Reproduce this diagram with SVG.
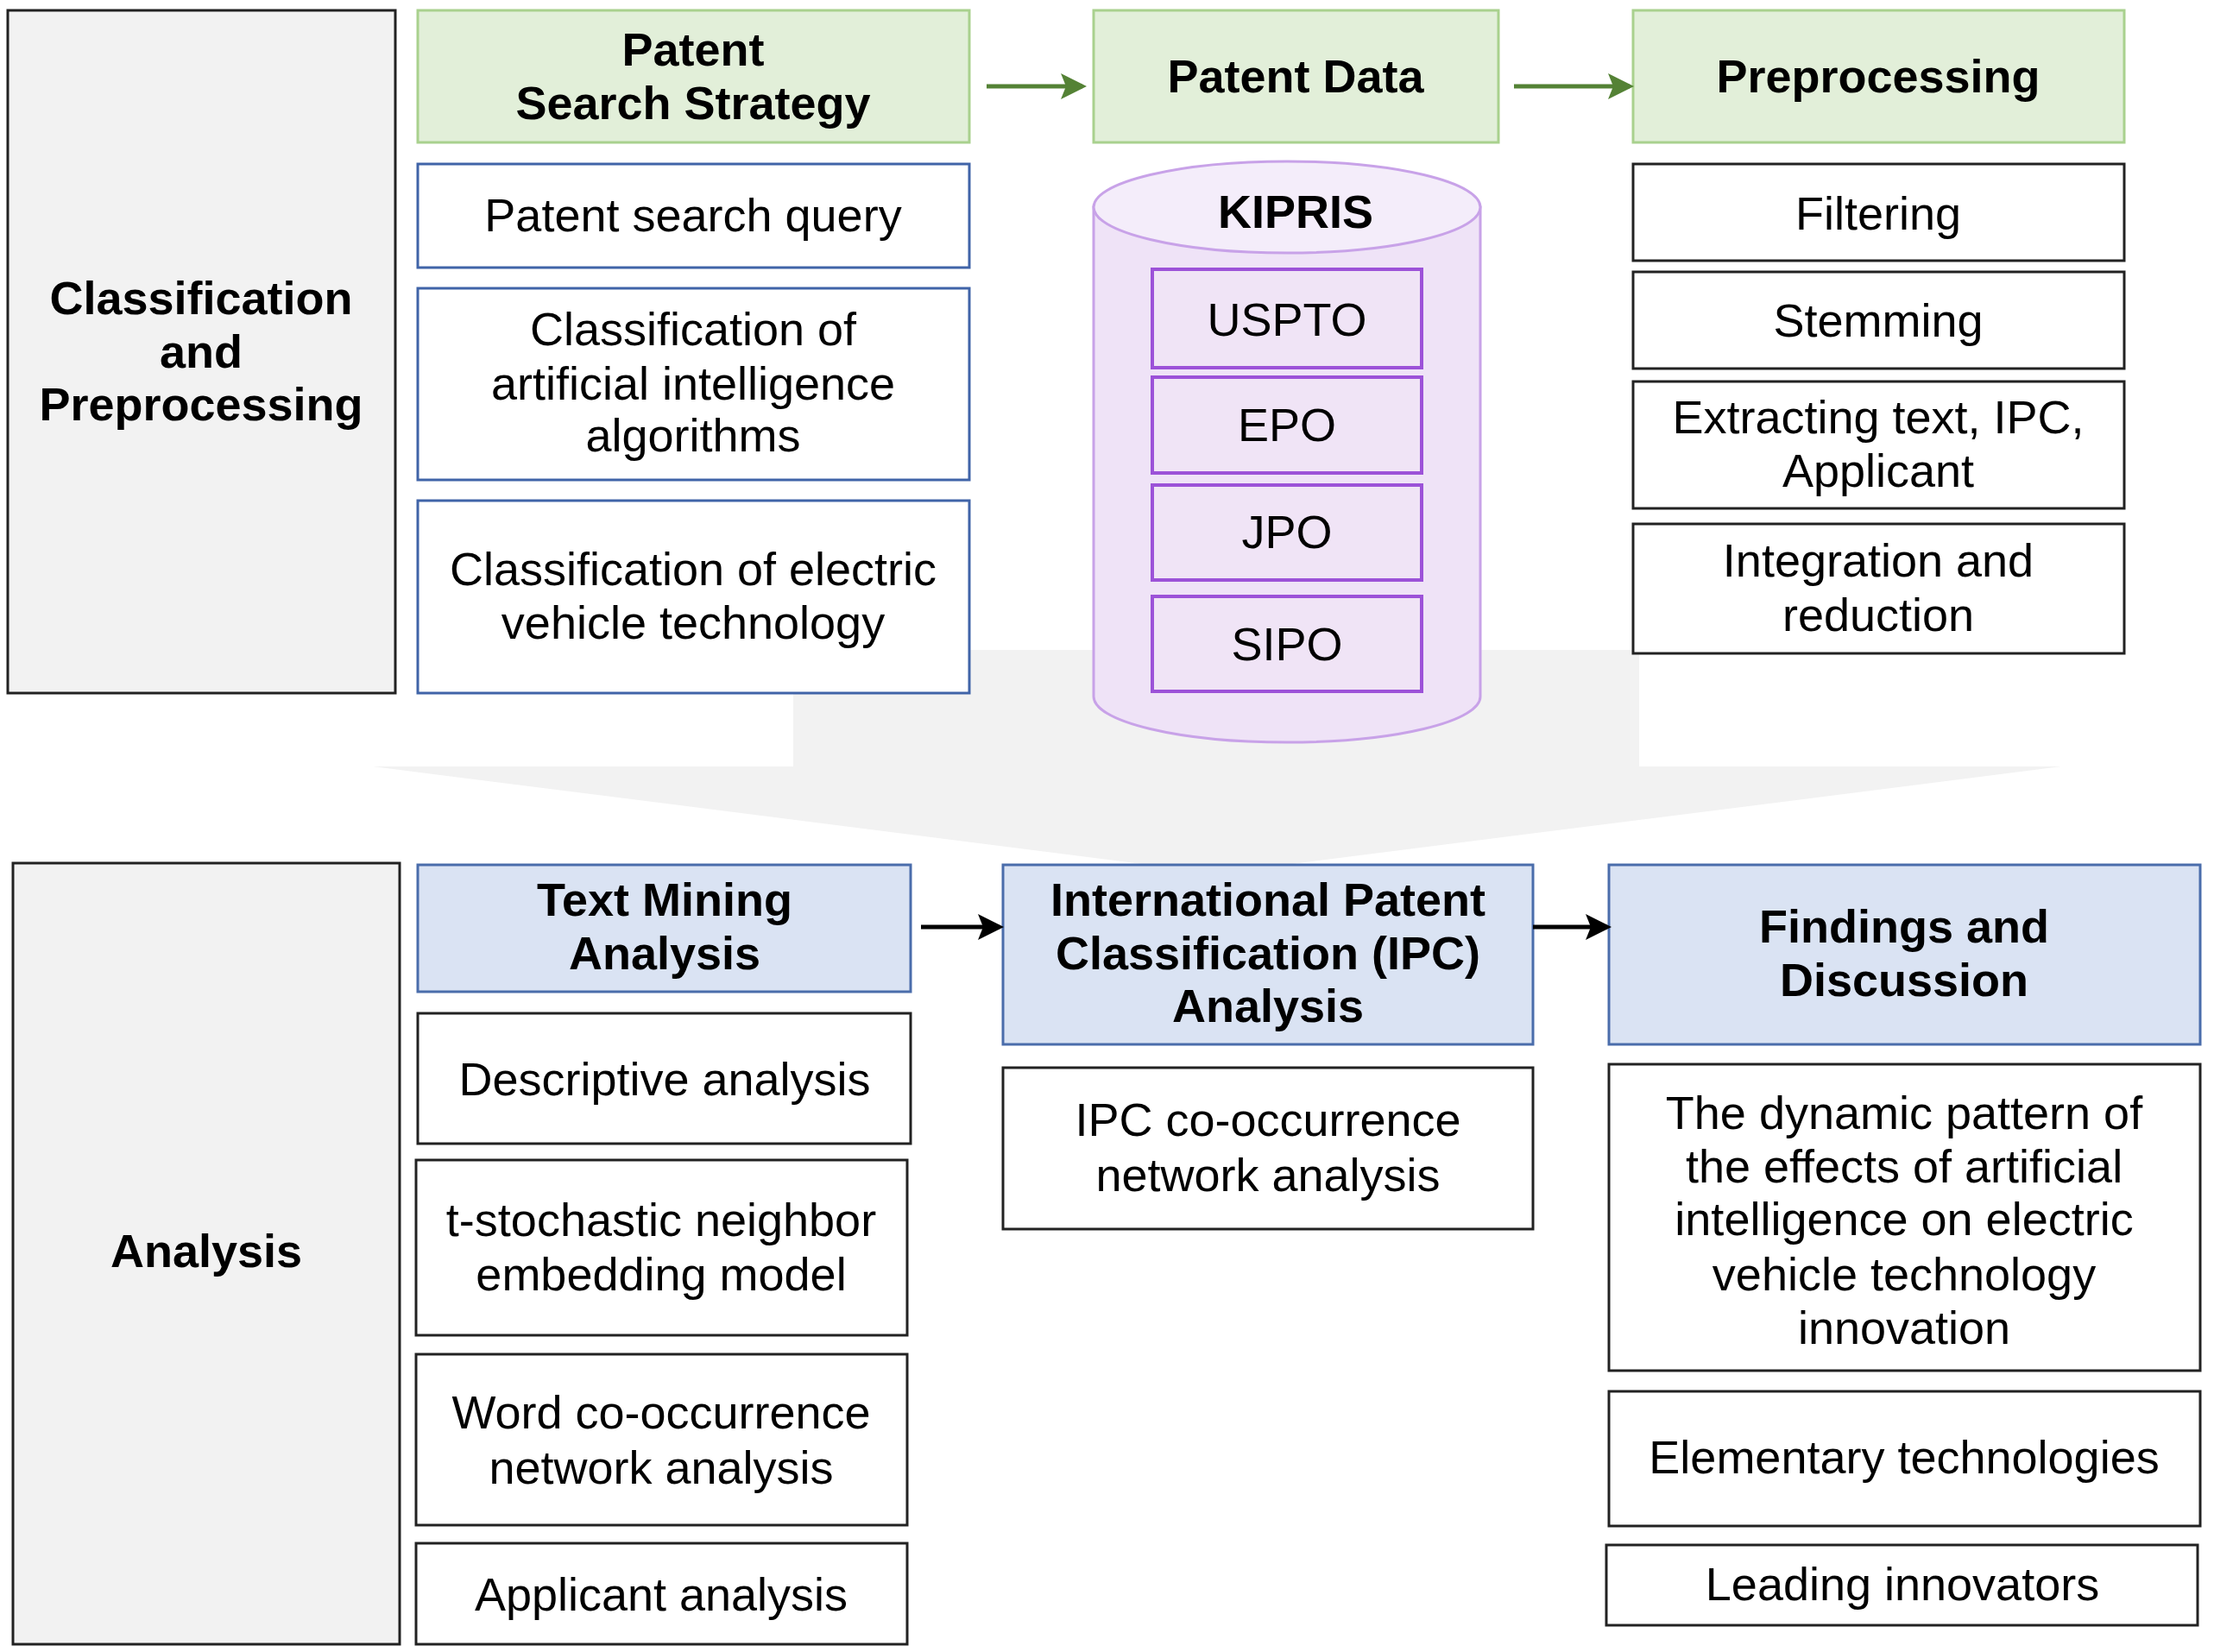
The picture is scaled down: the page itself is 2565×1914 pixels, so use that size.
<svg xmlns="http://www.w3.org/2000/svg" width="2565" height="1914" viewBox="0 0 2565 1914">
<style>
text{font-family:"Liberation Sans",Arial,sans-serif;font-size:54px;fill:#000;text-anchor:middle}
.b{font-weight:bold}
.side{fill:#f2f2f2;stroke:#222;stroke-width:3}
.green{fill:#e2efd9;stroke:#a9d18e;stroke-width:3}
.blue{fill:#dae3f3;stroke:#4a6dab;stroke-width:3}
.wblue{fill:#fff;stroke:#4064a8;stroke-width:3}
.wblack{fill:#fff;stroke:#222;stroke-width:3}
.db{fill:#f0e4f6;stroke:#9c52d8;stroke-width:4}
.cyl{fill:#efe3f7;stroke:#c8a2e8;stroke-width:3}
.cyltop{fill:#f4edfa;stroke:#c8a2e8;stroke-width:3}
.ga{stroke:#548235;stroke-width:5;fill:none}
.ka{stroke:#000;stroke-width:5;fill:none}
</style>
<defs>
<marker id="ahg" markerWidth="6" markerHeight="6" refX="5" refY="3" orient="auto" markerUnits="strokeWidth"><path d="M0,0 L6,3 L0,6 L1.2,3 Z" fill="#548235"/></marker>
<marker id="ahk" markerWidth="6" markerHeight="6" refX="5" refY="3" orient="auto" markerUnits="strokeWidth"><path d="M0,0 L6,3 L0,6 L1.2,3 Z" fill="#000"/></marker>
</defs>
<rect width="2565" height="1914" fill="#fff"/>
<g id="flow-arrow-bg">
<polygon points="919,753 1899,753 1899,888 2388,888 1410,1012 432,888 919,888" fill="#f2f2f2"/>
</g>
<g id="classification-preprocessing">
<rect class="side" x="9" y="12" width="449" height="791"/>
<text class="b" x="233" y="364">Classification</text>
<text class="b" x="233" y="426">and</text>
<text class="b" x="233" y="487">Preprocessing</text>
</g>
<g id="patent-search-strategy">
<rect class="green" x="484" y="12" width="639" height="153"/>
<text class="b" x="803" y="76">Patent</text>
<text class="b" x="803" y="138">Search Strategy</text>
</g>
<g id="patent-search-query">
<rect class="wblue" x="484" y="190" width="639" height="120"/>
<text x="803" y="268">Patent search query</text>
</g>
<g id="classification-ai">
<rect class="wblue" x="484" y="334" width="639" height="222"/>
<text x="803" y="400">Classification of</text>
<text x="803" y="463">artificial intelligence</text>
<text x="803" y="523">algorithms</text>
</g>
<g id="classification-ev">
<rect class="wblue" x="484" y="580" width="639" height="223"/>
<text x="803" y="678">Classification of electric</text>
<text x="803" y="740">vehicle technology</text>
</g>
<g id="patent-data">
<rect class="green" x="1267" y="12" width="469" height="153"/>
<text class="b" x="1501" y="107">Patent Data</text>
</g>
<g id="database-cylinder">
<path class="cyl" d="M1267,240 L1267,807 A224,53 0 0 0 1715,807 L1715,240 Z"/>
<ellipse class="cyltop" cx="1491" cy="240" rx="224" ry="53"/>
<text class="b" x="1501" y="264">KIPRIS</text>
</g>
<g id="uspto">
<rect class="db" x="1335" y="312" width="312" height="114"/>
<text x="1491" y="389">USPTO</text>
</g>
<g id="epo">
<rect class="db" x="1335" y="437" width="312" height="111"/>
<text x="1491" y="511">EPO</text>
</g>
<g id="jpo">
<rect class="db" x="1335" y="562" width="312" height="110"/>
<text x="1491" y="635">JPO</text>
</g>
<g id="sipo">
<rect class="db" x="1335" y="691" width="312" height="110"/>
<text x="1491" y="765">SIPO</text>
</g>
<g id="preprocessing">
<rect class="green" x="1892" y="12" width="569" height="153"/>
<text class="b" x="2176" y="107">Preprocessing</text>
</g>
<g id="filtering">
<rect class="wblack" x="1892" y="190" width="569" height="112"/>
<text x="2176" y="266">Filtering</text>
</g>
<g id="stemming">
<rect class="wblack" x="1892" y="315" width="569" height="112"/>
<text x="2176" y="390">Stemming</text>
</g>
<g id="extracting">
<rect class="wblack" x="1892" y="442" width="569" height="147"/>
<text x="2176" y="502">Extracting text, IPC,</text>
<text x="2176" y="564">Applicant</text>
</g>
<g id="integration">
<rect class="wblack" x="1892" y="607" width="569" height="150"/>
<text x="2176" y="668">Integration and</text>
<text x="2176" y="731">reduction</text>
</g>
<g id="analysis">
<rect class="side" x="15" y="1000" width="448" height="905"/>
<text class="b" x="239" y="1468">Analysis</text>
</g>
<g id="text-mining">
<rect class="blue" x="484" y="1002" width="571" height="147"/>
<text class="b" x="770" y="1061">Text Mining</text>
<text class="b" x="770" y="1123">Analysis</text>
</g>
<g id="descriptive">
<rect class="wblack" x="484" y="1174" width="571" height="151"/>
<text x="770" y="1269">Descriptive analysis</text>
</g>
<g id="tsne">
<rect class="wblack" x="482" y="1344" width="569" height="203"/>
<text x="766" y="1432">t-stochastic neighbor</text>
<text x="766" y="1495">embedding model</text>
</g>
<g id="word-cooc">
<rect class="wblack" x="482" y="1569" width="569" height="198"/>
<text x="766" y="1655">Word co-occurrence</text>
<text x="766" y="1719">network analysis</text>
</g>
<g id="applicant">
<rect class="wblack" x="482" y="1788" width="569" height="117"/>
<text x="766" y="1866">Applicant analysis</text>
</g>
<g id="ipc-analysis">
<rect class="blue" x="1162" y="1002" width="614" height="208"/>
<text class="b" x="1469" y="1061">International Patent</text>
<text class="b" x="1469" y="1123">Classification (IPC)</text>
<text class="b" x="1469" y="1184">Analysis</text>
</g>
<g id="ipc-cooc">
<rect class="wblack" x="1162" y="1237" width="614" height="187"/>
<text x="1469" y="1316">IPC co-occurrence</text>
<text x="1469" y="1380">network analysis</text>
</g>
<g id="findings">
<rect class="blue" x="1864" y="1002" width="685" height="208"/>
<text class="b" x="2206" y="1092">Findings and</text>
<text class="b" x="2206" y="1154">Discussion</text>
</g>
<g id="dynamic-pattern">
<rect class="wblack" x="1864" y="1233" width="685" height="355"/>
<text x="2206" y="1308">The dynamic pattern of</text>
<text x="2206" y="1370">the effects of artificial</text>
<text x="2206" y="1431">intelligence on electric</text>
<text x="2206" y="1495">vehicle technology</text>
<text x="2206" y="1557">innovation</text>
</g>
<g id="elementary">
<rect class="wblack" x="1864" y="1612" width="685" height="156"/>
<text x="2206" y="1707">Elementary technologies</text>
</g>
<g id="leading">
<rect class="wblack" x="1861" y="1790" width="685" height="93"/>
<text x="2204" y="1854">Leading innovators</text>
</g>
<g id="connectors">
<line class="ga" x1="1143" y1="100" x2="1254" y2="100" marker-end="url(#ahg)"/>
<line class="ga" x1="1754" y1="100" x2="1888" y2="100" marker-end="url(#ahg)"/>
<line class="ka" x1="1067" y1="1074" x2="1158" y2="1074" marker-end="url(#ahk)"/>
<line class="ka" x1="1776" y1="1074" x2="1862" y2="1074" marker-end="url(#ahk)"/>
</g>
</svg>
